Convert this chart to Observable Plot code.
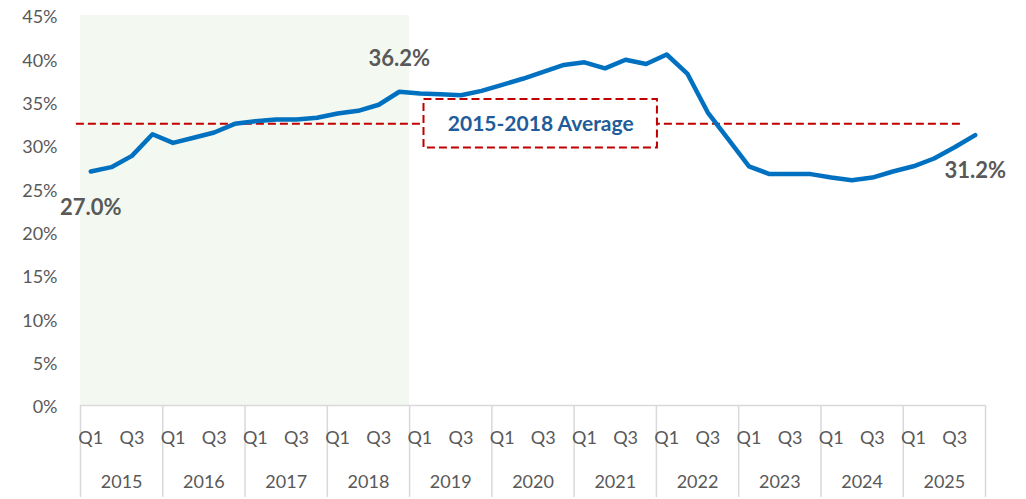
<!DOCTYPE html>
<html>
<head>
<meta charset="utf-8">
<script src="https://cdn.jsdelivr.net/npm/d3@7"></script>
<script src="https://cdn.jsdelivr.net/npm/@observablehq/plot@0.6"></script>
<style>
  html, body { margin: 0; padding: 0; background: #fff; }
  #chart svg { display: block; }
</style>
</head>
<body>
<div id="chart"></div>
<script>
// ---- data ----
const years = [2015, 2016, 2017, 2018, 2019, 2020, 2021, 2022, 2023, 2024, 2025];
const quarters = ["Q1", "Q2", "Q3", "Q4"];
const values = [
  27.0, 27.5, 28.8, 31.3,
  30.3, 30.9, 31.5, 32.5,
  32.8, 33.0, 33.0, 33.2,
  33.7, 34.0, 34.7, 36.2,
  36.0, 35.9, 35.8, 36.3,
  37.0, 37.7, 38.5, 39.3,
  39.6, 38.9, 39.9, 39.4,
  40.5, 38.3, 33.8, 30.7,
  27.6, 26.7, 26.7, 26.7,
  26.3, 26.0, 26.3, 27.0,
  27.6, 28.5, 29.8, 31.2
];
const yTicks = [0, 5, 10, 15, 20, 25, 30, 35, 40, 45];
const averageValue = 32.5;           // 2015-2018 average line as drawn
const averageLabel = "2015-2018 Average";
const shadeFromYear = 2015, shadeToYear = 2018;
const labelled = [ // index, text, position
  {i: 0, text: "27.0%", pos: "below"},
  {i: 15, text: "36.2%", pos: "above"},
  {i: 43, text: "31.2%", pos: "below"}
];
// annotation extents (in quarter-index / percent units)
const avgLine = {from: -0.7, to: 42.45};
const avgBox = {x1: 16.2, x2: 27.55, y1: 29.7, y2: 35.3};

// ---- derived ----
const rows = values.map((v, i) => ({
  i, value: v,
  year: years[Math.floor(i / 4)],
  q: quarters[i % 4]
}));
const n = values.length;
const qTicks = rows.filter(d => d.q === "Q1" || d.q === "Q3").map(d => d.i);
const yearCenters = years.map((y, k) => k * 4 + 1.5);
const yearBounds = d3.range(years.length + 1).map(k => k * 4 - 0.5);
const shade = [{
  x1: (shadeFromYear - years[0]) * 4 - 0.5,
  x2: (shadeToYear - years[0]) * 4 + 3.5,
  y1: 0, y2: yTicks[yTicks.length - 1]
}];
const labelRows = labelled.map(d => ({...d, value: values[d.i]}));

const gray = "#595959";
const red = "#C00000";

const chart = Plot.plot({
  width: 1026,
  height: 499,
  marginLeft: 80,
  marginRight: 41,
  marginTop: 15,
  marginBottom: 94,
  style: {fontFamily: "Lato, 'Open Sans', sans-serif", background: "#fff"},
  x: {domain: [-0.5, n - 0.5], axis: null},
  y: {domain: [0, 45], axis: null},
  marks: [
    Plot.rect(shade, {x1: "x1", x2: "x2", y1: "y1", y2: "y2", fill: "#F3F8F0"}),
    Plot.ruleY([0], {stroke: "#D9D9D9", strokeWidth: 1.5}),
    Plot.axisX({ticks: yearBounds, tickSize: 92, tickFormat: () => "", stroke: "#D9D9D9", strokeWidth: 1.5, strokeOpacity: 1}),
    Plot.axisY({ticks: yTicks, tickFormat: d => d + "%", tickSize: 0, tickPadding: 23, fontSize: 18, fill: gray, dy: 2}),
    Plot.axisX({ticks: qTicks, tickFormat: i => quarters[i % 4], tickSize: 0, tickPadding: 26, fontSize: 18, fill: gray}),
    Plot.axisX({ticks: yearCenters, tickFormat: c => String(years[Math.round((c - 1.5) / 4)]), tickSize: 0, tickPadding: 70, fontSize: 18, fill: gray}),
    Plot.ruleY([averageValue], {x1: avgLine.from, x2: avgLine.to, stroke: red, strokeWidth: 2, strokeDasharray: "8,4"}),
    Plot.rect([avgBox], {x1: "x1", x2: "x2", y1: "y1", y2: "y2", fill: "#fff", stroke: red, strokeWidth: 2, strokeDasharray: "8,4"}),
    Plot.text([avgBox], {x: d => (d.x1 + d.x2) / 2, y: averageValue, text: () => averageLabel, fill: "#1F5C99", fontWeight: "bold", fontSize: 21}),
    Plot.line(rows, {x: "i", y: "value", stroke: "#0070C0", strokeWidth: 4.5, strokeLinejoin: "round", strokeLinecap: "round"}),
    Plot.text(labelRows.filter(d => d.pos === "below"), {x: "i", y: "value", text: "text", dy: 36, fill: gray, fontWeight: "bold", fontSize: 22}),
    Plot.text(labelRows.filter(d => d.pos === "above"), {x: "i", y: "value", text: "text", dy: -33, fill: gray, fontWeight: "bold", fontSize: 22})
  ]
});
document.getElementById("chart").appendChild(chart);
</script>
</body>
</html>
